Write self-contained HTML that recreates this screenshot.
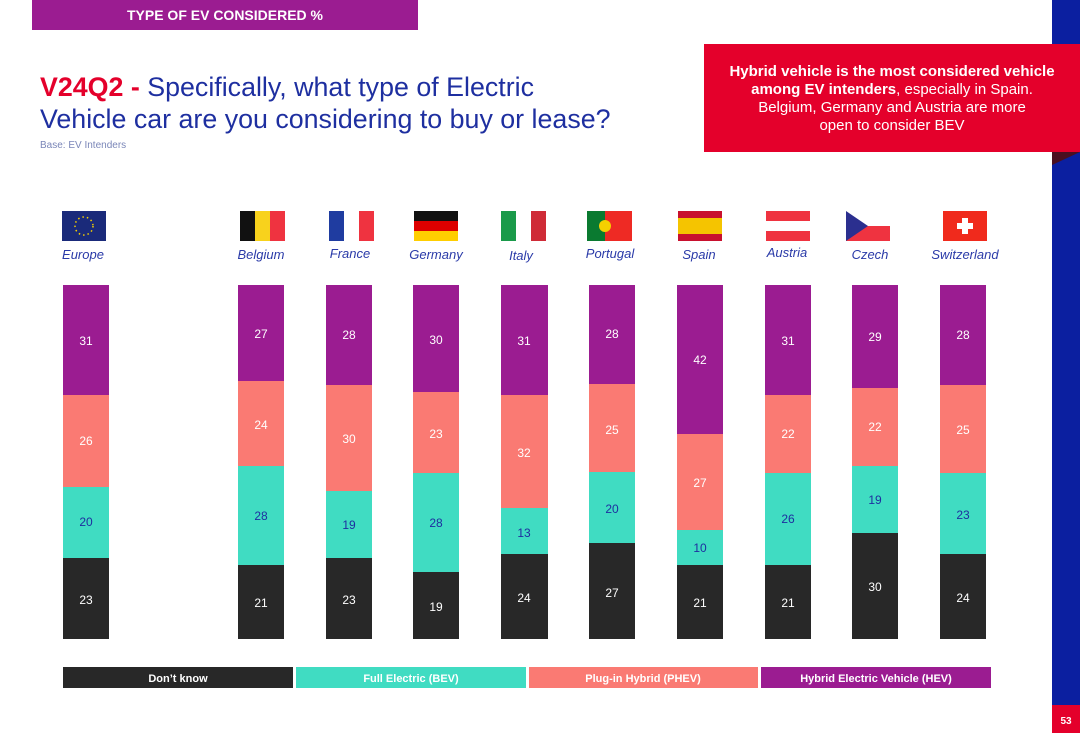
<!DOCTYPE html>
<html><head><meta charset="utf-8"><style>
body{margin:0;width:1080px;height:733px;overflow:hidden;background:#fff;font-family:"Liberation Sans",sans-serif;}
</style></head><body>
<svg width="1080" height="733" xmlns="http://www.w3.org/2000/svg" font-family="Liberation Sans, sans-serif">
<rect x="32" y="0" width="386" height="30" fill="#9b1c91"/>
<text x="225" y="20" fill="#fff" font-size="14" font-weight="bold" text-anchor="middle">TYPE OF EV CONSIDERED %</text>
<rect x="1052" y="0" width="28" height="705" fill="#0b1fa0"/>
<rect x="1052" y="705" width="28" height="28" fill="#e4002b"/>
<text x="1066" y="724" fill="#fff" font-size="10" font-weight="bold" text-anchor="middle">53</text>
<rect x="704" y="44" width="376" height="108" fill="#e4002b"/>
<polygon points="1052,152 1080,152 1052,165" fill="#4a0f20"/>
<text x="892" y="76" fill="#fff" font-size="15" text-anchor="middle"><tspan font-weight="bold">Hybrid vehicle is the most considered vehicle</tspan></text>
<text x="892" y="94" fill="#fff" font-size="15" text-anchor="middle"><tspan font-weight="bold">among EV intenders</tspan>, especially in Spain.</text>
<text x="892" y="112" fill="#fff" font-size="15" text-anchor="middle">Belgium, Germany and Austria are more</text>
<text x="892" y="130" fill="#fff" font-size="15" text-anchor="middle">open to consider BEV</text>
<text x="40" y="96" font-size="26.8" fill="#1e2fa0"><tspan fill="#e4002b" font-weight="bold">V24Q2 -</tspan> Specifically, what type of Electric</text>
<text x="40" y="128" font-size="26.8" fill="#1e2fa0">Vehicle car are you considering to buy or lease?</text>
<text x="40" y="148" font-size="10" fill="#7a86b8">Base: EV Intenders</text>

<!-- flags -->
<rect x="62" y="211" width="44" height="30" fill="#1a2a7a"/>
<circle cx="84" cy="226" r="9" fill="none" stroke="#f5d000" stroke-width="1.5" stroke-dasharray="1.5 3"/>
<rect x="240" y="211" width="15" height="30" fill="#111"/><rect x="255" y="211" width="15" height="30" fill="#f8d21c"/><rect x="270" y="211" width="15" height="30" fill="#ef3340"/>
<rect x="329" y="211" width="15" height="30" fill="#1f3ca0"/><rect x="344" y="211" width="15" height="30" fill="#fff"/><rect x="359" y="211" width="15" height="30" fill="#ef3340"/>
<rect x="414" y="211" width="44" height="10" fill="#111"/><rect x="414" y="221" width="44" height="10" fill="#dd0000"/><rect x="414" y="231" width="44" height="10" fill="#ffce00"/>
<rect x="501" y="211" width="15" height="30" fill="#1a9a4a"/><rect x="516" y="211" width="15" height="30" fill="#fff"/><rect x="531" y="211" width="15" height="30" fill="#cf2b37"/>
<rect x="587" y="211" width="18" height="30" fill="#0a7a30"/><rect x="605" y="211" width="27" height="30" fill="#ee2a24"/><circle cx="605" cy="226" r="6" fill="#f5d000"/>
<rect x="678" y="211" width="44" height="30" fill="#c8102e"/><rect x="678" y="218" width="44" height="16" fill="#f5c400"/>
<rect x="766" y="211" width="44" height="10" fill="#ef3340"/><rect x="766" y="221" width="44" height="10" fill="#fff"/><rect x="766" y="231" width="44" height="10" fill="#ef3340"/>
<rect x="846" y="211" width="44" height="15" fill="#fff"/><rect x="846" y="226" width="44" height="15" fill="#ef3340"/><polygon points="846,211 868,226 846,241" fill="#2b2f8f"/>
<rect x="943" y="211" width="44" height="30" fill="#f02a1c"/><rect x="962" y="218" width="6" height="16" fill="#fff"/><rect x="957" y="223" width="16" height="6" fill="#fff"/>
<g font-size="13" font-style="italic" fill="#2a3aa8" text-anchor="middle">
<text x="83" y="259">Europe</text><text x="261" y="259">Belgium</text><text x="350" y="258">France</text><text x="436" y="259">Germany</text><text x="521" y="260">Italy</text><text x="610" y="258">Portugal</text><text x="699" y="259">Spain</text><text x="787" y="257">Austria</text><text x="870" y="259">Czech</text><text x="965" y="259">Switzerland</text>
</g>

<g font-size="12" text-anchor="middle">
<rect x="63" y="285" width="46" height="110" fill="#9b1c91"/><rect x="63" y="395" width="46" height="92" fill="#fa7a73"/><rect x="63" y="487" width="46" height="71" fill="#40dcc2"/><rect x="63" y="558" width="46" height="81" fill="#282828"/>
<text x="86" y="345" fill="#fff">31</text><text x="86" y="445" fill="#fff">26</text><text x="86" y="526" fill="#1e2fa0">20</text><text x="86" y="604" fill="#fff">23</text>
<rect x="238" y="285" width="46" height="96" fill="#9b1c91"/><rect x="238" y="381" width="46" height="85" fill="#fa7a73"/><rect x="238" y="466" width="46" height="99" fill="#40dcc2"/><rect x="238" y="565" width="46" height="74" fill="#282828"/>
<text x="261" y="338" fill="#fff">27</text><text x="261" y="429" fill="#fff">24</text><text x="261" y="520" fill="#1e2fa0">28</text><text x="261" y="607" fill="#fff">21</text>
<rect x="326" y="285" width="46" height="100" fill="#9b1c91"/><rect x="326" y="385" width="46" height="106" fill="#fa7a73"/><rect x="326" y="491" width="46" height="67" fill="#40dcc2"/><rect x="326" y="558" width="46" height="81" fill="#282828"/>
<text x="349" y="339" fill="#fff">28</text><text x="349" y="443" fill="#fff">30</text><text x="349" y="529" fill="#1e2fa0">19</text><text x="349" y="604" fill="#fff">23</text>
<rect x="413" y="285" width="46" height="107" fill="#9b1c91"/><rect x="413" y="392" width="46" height="81" fill="#fa7a73"/><rect x="413" y="473" width="46" height="99" fill="#40dcc2"/><rect x="413" y="572" width="46" height="67" fill="#282828"/>
<text x="436" y="344" fill="#fff">30</text><text x="436" y="438" fill="#fff">23</text><text x="436" y="527" fill="#1e2fa0">28</text><text x="436" y="611" fill="#fff">19</text>
<rect x="501" y="285" width="47" height="110" fill="#9b1c91"/><rect x="501" y="395" width="47" height="113" fill="#fa7a73"/><rect x="501" y="508" width="47" height="46" fill="#40dcc2"/><rect x="501" y="554" width="47" height="85" fill="#282828"/>
<text x="524" y="345" fill="#fff">31</text><text x="524" y="457" fill="#fff">32</text><text x="524" y="537" fill="#1e2fa0">13</text><text x="524" y="602" fill="#fff">24</text>
<rect x="589" y="285" width="46" height="99" fill="#9b1c91"/><rect x="589" y="384" width="46" height="88" fill="#fa7a73"/><rect x="589" y="472" width="46" height="71" fill="#40dcc2"/><rect x="589" y="543" width="46" height="96" fill="#282828"/>
<text x="612" y="338" fill="#fff">28</text><text x="612" y="434" fill="#fff">25</text><text x="612" y="513" fill="#1e2fa0">20</text><text x="612" y="597" fill="#fff">27</text>
<rect x="677" y="285" width="46" height="149" fill="#9b1c91"/><rect x="677" y="434" width="46" height="96" fill="#fa7a73"/><rect x="677" y="530" width="46" height="35" fill="#40dcc2"/><rect x="677" y="565" width="46" height="74" fill="#282828"/>
<text x="700" y="364" fill="#fff">42</text><text x="700" y="487" fill="#fff">27</text><text x="700" y="552" fill="#1e2fa0">10</text><text x="700" y="607" fill="#fff">21</text>
<rect x="765" y="285" width="46" height="110" fill="#9b1c91"/><rect x="765" y="395" width="46" height="78" fill="#fa7a73"/><rect x="765" y="473" width="46" height="92" fill="#40dcc2"/><rect x="765" y="565" width="46" height="74" fill="#282828"/>
<text x="788" y="345" fill="#fff">31</text><text x="788" y="438" fill="#fff">22</text><text x="788" y="523" fill="#1e2fa0">26</text><text x="788" y="607" fill="#fff">21</text>
<rect x="852" y="285" width="46" height="103" fill="#9b1c91"/><rect x="852" y="388" width="46" height="78" fill="#fa7a73"/><rect x="852" y="466" width="46" height="67" fill="#40dcc2"/><rect x="852" y="533" width="46" height="106" fill="#282828"/>
<text x="875" y="341" fill="#fff">29</text><text x="875" y="431" fill="#fff">22</text><text x="875" y="504" fill="#1e2fa0">19</text><text x="875" y="591" fill="#fff">30</text>
<rect x="940" y="285" width="46" height="100" fill="#9b1c91"/><rect x="940" y="385" width="46" height="88" fill="#fa7a73"/><rect x="940" y="473" width="46" height="81" fill="#40dcc2"/><rect x="940" y="554" width="46" height="85" fill="#282828"/>
<text x="963" y="339" fill="#fff">28</text><text x="963" y="434" fill="#fff">25</text><text x="963" y="519" fill="#1e2fa0">23</text><text x="963" y="602" fill="#fff">24</text>
</g>

<g font-size="11" font-weight="bold" fill="#fff" text-anchor="middle">
<rect x="63" y="667" width="230" height="21" fill="#282828"/><text x="178" y="682">Don’t know</text>
<rect x="296" y="667" width="230" height="21" fill="#40dcc2"/><text x="411" y="682">Full Electric (BEV)</text>
<rect x="529" y="667" width="229" height="21" fill="#fa7a73"/><text x="643" y="682">Plug-in Hybrid (PHEV)</text>
<rect x="761" y="667" width="230" height="21" fill="#9b1c91"/><text x="876" y="682">Hybrid Electric Vehicle (HEV)</text>
</g>
</svg>
</body></html>
